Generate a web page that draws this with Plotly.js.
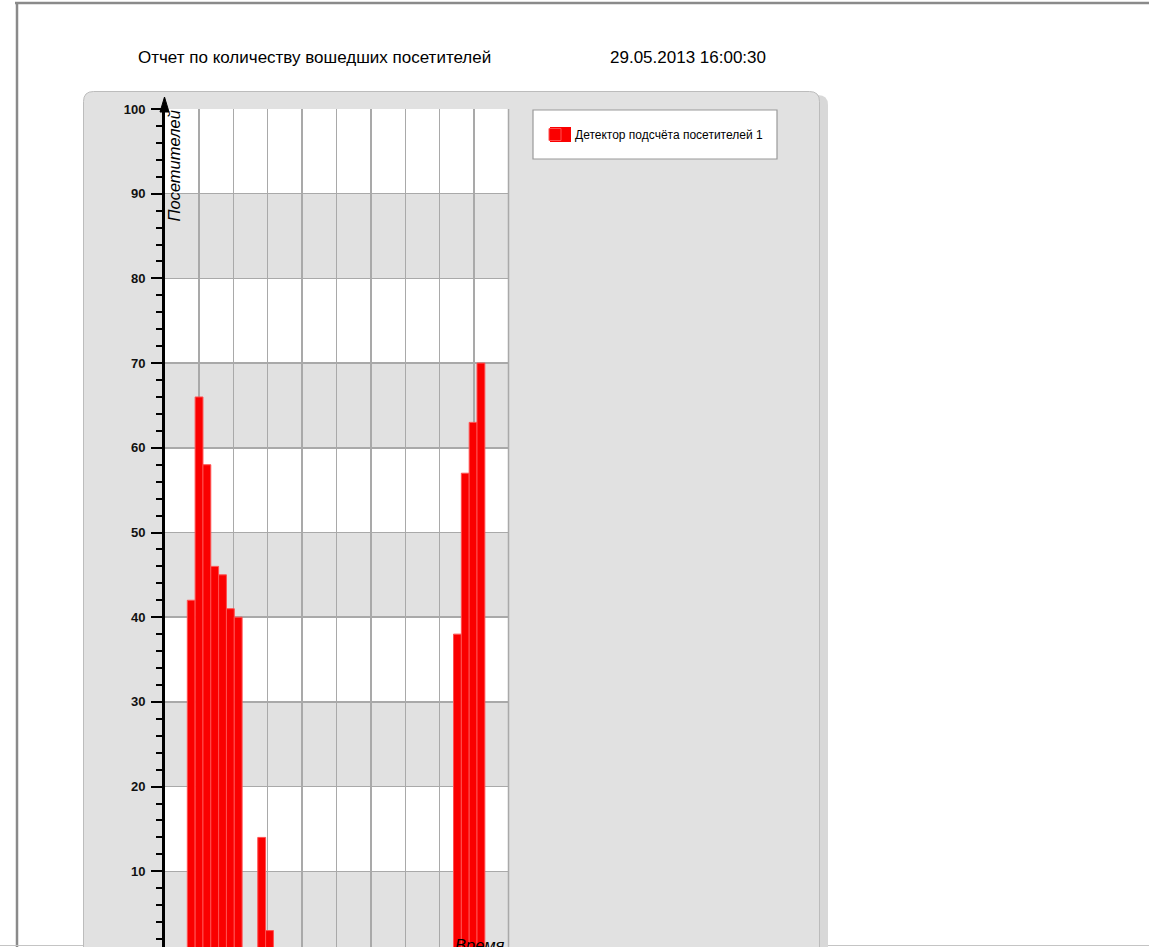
<!DOCTYPE html>
<html><head><meta charset="utf-8">
<script src="https://cdn.plot.ly/plotly-3.0.1.min.js"></script>
<style>html,body{margin:0;padding:0;background:#fff;}#chart{width:1149px;height:947px;}</style>
</head><body><div id="chart"></div>
<script>
// ---- data ----
const reportTitle = "Отчет по количеству вошедших посетителей";
const reportDate = "29.05.2013 16:00:30";
const seriesName = "Детектор подсчёта посетителей 1";
const yTitle = "Посетителей";
const xTitle = "Время";
// time slots (consecutive intervals) and visitor counts
const slots  = [0, 1, 2, 3, 4, 5, 6, 9, 10, 34, 35, 36, 37];
const counts = [42, 66, 58, 46, 45, 41, 40, 14, 3, 38, 57, 63, 70];

// ---- layout helpers (pixel -> paper) ----
const W = 1149, H = 947;
const px = x => x / W;
const py = y => 1 - y / H;

const plotL = 164.5, plotR = 508.5, plotT = 109;
const slotW = 7.83, slot0Left = 187.3;
const xMin = -0.5 - (slot0Left - plotL) / slotW;
const xMax = -0.5 + (plotR - slot0Left) / slotW;
const colW = (xMax - xMin) / 10;
const unitPx = 8.47;
const yMin = (956 - H) / unitPx;
const barRed = '#fa0000';

function roundedTop(x0, y0, x1, y1, r) {
  return `M${px(x0)},${py(y1)} L${px(x0)},${py(y0 + r)} Q${px(x0)},${py(y0)} ${px(x0 + r)},${py(y0)} ` +
         `L${px(x1 - r)},${py(y0)} Q${px(x1)},${py(y0)} ${px(x1)},${py(y0 + r)} L${px(x1)},${py(y1)} Z`;
}

const shapes = [];
// outer frame
shapes.push({type:'line', xref:'paper', yref:'paper', x0:px(15), x1:1, y0:py(3), y1:py(3), line:{color:'#8a8a8a', width:2.5}, layer:'below'});
shapes.push({type:'line', xref:'paper', yref:'paper', x0:px(17), x1:px(17), y0:py(3), y1:0, line:{color:'#8a8a8a', width:2.5}, layer:'below'});
shapes.push({type:'line', xref:'paper', yref:'paper', x0:0, x1:1, y0:py(945.5), y1:py(945.5), line:{color:'#c4c4c4', width:1}, layer:'below'});
// panel shadow + panel
shapes.push({type:'path', xref:'paper', yref:'paper', path: roundedTop(88, 95, 828, 990, 10), fillcolor:'#d8d8d8', line:{width:0}, layer:'below'});
shapes.push({type:'path', xref:'paper', yref:'paper', path: roundedTop(83.5, 91.5, 819.5, 990, 10), fillcolor:'#e1e1e1', line:{color:'#bcbcbc', width:1}, layer:'below'});
// alternating bands in plot area
for (let b = 0; b < 10; b++) {
  shapes.push({type:'rect', xref:'x domain', yref:'y', x0:0, x1:1, y0:b*10, y1:b*10+10,
    fillcolor: (b % 2 === 0) ? '#e1e1e1' : '#ffffff', line:{width:0}, layer:'below'});
}
// right border of plot
shapes.push({type:'line', xref:'x domain', yref:'paper', x0:1, x1:1, y0:0, y1:py(plotT), line:{color:'#a9a9a9', width:1.5}, layer:'above'});
// arrow head at top of y axis
shapes.push({type:'path', xref:'paper', yref:'paper',
  path:`M${px(plotL-4.5)},${py(112)} L${px(plotL)},${py(97)} L${px(plotL+4.5)},${py(112)} Z`,
  fillcolor:'#000', line:{color:'#000', width:1}, layer:'above'});
// legend box and enlarged swatch
shapes.push({type:'rect', xref:'paper', yref:'paper', x0:px(533), x1:px(777), y0:py(110), y1:py(159),
  fillcolor:'#ffffff', line:{color:'#9a9a9a', width:1.2}, layer:'above'});
shapes.push({type:'rect', xref:'paper', yref:'paper', x0:px(550), x1:px(571), y0:py(127), y1:py(142),
  fillcolor:barRed, line:{width:0}, layer:'above'});

const trace = {
  type:'bar', x: slots, y: counts, name: seriesName, width: 1,
  marker:{color:barRed, line:{color:'#ff5050', width:1}},
  showlegend:true, hoverinfo:'x+y'
};

const font = {family:'"Liberation Sans", Arial, sans-serif', color:'#000'};

const layout = {
  width: W, height: H,
  margin:{l:0, r:0, t:0, b:0, pad:0},
  paper_bgcolor:'#ffffff', plot_bgcolor:'rgba(0,0,0,0)',
  font: font,
  bargap: 0,
  showlegend: true,
  legend:{x:px(535), xanchor:'left', y:py(134.5), yanchor:'middle', bgcolor:'rgba(0,0,0,0)', borderwidth:0,
    font:{family:font.family, size:12, color:'#000'}},
  xaxis:{domain:[px(plotL), px(plotR)], range:[xMin, xMax], tick0:xMin, dtick:colW,
    showticklabels:false, ticks:'', showgrid:true, gridcolor:'#a9a9a9', gridwidth:1.5,
    zeroline:false, showline:false, fixedrange:true},
  yaxis:{domain:[0, py(plotT)], range:[yMin, 100], tick0:0, dtick:10,
    showgrid:true, gridcolor:'#a9a9a9', gridwidth:1.5, zeroline:false,
    showline:true, linecolor:'#000', linewidth:2.5,
    ticks:'outside', ticklen:11, tickwidth:2, tickcolor:'#000',
    minor:{dtick:2, ticks:'outside', ticklen:6, tickwidth:2, tickcolor:'#000', showgrid:false},
    tickfont:{family:font.family, size:13, color:'#111', weight:'bold'}, ticklabelstandoff:3, fixedrange:true},
  shapes: shapes,
  annotations:[
    {xref:'paper', yref:'paper', x:px(136), y:py(57), xanchor:'left', yanchor:'middle', showarrow:false,
     text: reportTitle, font:{family:font.family, size:17, color:'#000'}},
    {xref:'paper', yref:'paper', x:px(608), y:py(57), xanchor:'left', yanchor:'middle', showarrow:false,
     text: reportDate, font:{family:font.family, size:17, color:'#000'}},
    {xref:'paper', yref:'paper', x:px(173), y:py(109), xanchor:'center', yanchor:'top', showarrow:false, textangle:-90,
     text:'<i>' + yTitle + '</i>', font:{family:font.family, size:16.5, color:'#000'}},
    {xref:'paper', yref:'paper', x:px(506), y:py(934), xanchor:'right', yanchor:'top', showarrow:false,
     text:'<i>' + xTitle + '</i>', font:{family:font.family, size:16.5, color:'#000'}}
  ]
};

Plotly.newPlot('chart', [trace], layout, {displayModeBar:false, staticPlot:true});
</script>
</body></html>
